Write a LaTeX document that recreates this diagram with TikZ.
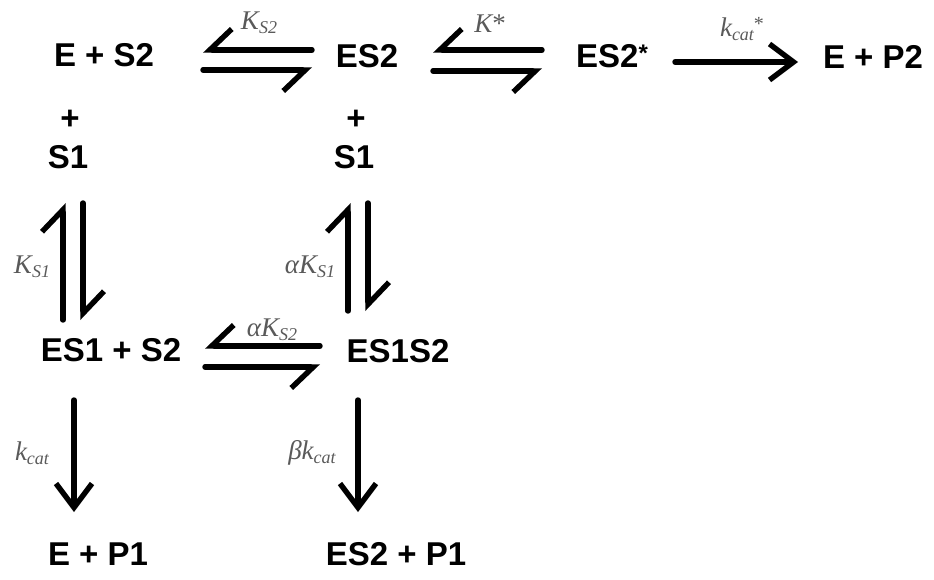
\documentclass[tikz,border=0pt]{standalone}
\usepackage{fontspec}
\setmainfont{Liberation Sans}
\newfontfamily\labserif{Liberation Serif}
\usetikzlibrary{arrows.meta}
\definecolor{labgray}{HTML}{5A5A5A}
\newcommand{\lsub}[1]{\raisebox{-0.32ex}{\fontsize{18}{18}\selectfont #1}}
\newcommand{\lsup}[1]{\raisebox{0.45ex}{\fontsize{20}{20}\selectfont #1}}
\begin{document}
\begin{tikzpicture}[x=1pt,y=-1pt,
  chem/.style={inner sep=0pt,font=\fontsize{33}{35}\selectfont\bfseries},
  lab/.style={inner sep=0pt,text=labgray,font=\fontsize{27}{29}\selectfont\labserif\itshape},
  conn/.style={line width=5.4pt,line cap=round},
  harpA/.style={conn,-{Straight Barb[left,length=22pt,width=42pt]}},
  harpB/.style={conn,-{Straight Barb[right,length=22pt,width=42pt]}},
  single/.style={conn,-{Straight Barb[length=24pt,width=36pt]}}]
\useasboundingbox (0,0) rectangle (934,579);
% species
\node[chem] (ES) at (104,55) {E + S2};
\node[chem] (ES2) at (367,56) {ES2};
\node[chem] (ES2s) at (612,56) {ES2\raisebox{6pt}{\fontsize{24}{24}\selectfont*}};
\node[chem] (EP2) at (873,57) {E + P2};
\node[chem] (plusL) at (70,120) {+};
\node[chem] (S1L) at (68,157) {S1};
\node[chem] (plusR) at (356,120) {+};
\node[chem] (S1R) at (354,157) {S1};
\node[chem] (ES1) at (111,350) {ES1 + S2};
\node[chem] (ES1S2) at (398,351) {ES1S2};
\node[chem] (EP1) at (98,554) {E + P1};
\node[chem] (ES2P1) at (396,554) {ES2 + P1};
% labels
\node[lab] (lKS2) at (259,23) {K\lsub{S2}};
\node[lab] (lKst) at (490,24) {K{\upshape*}};
\node[lab] (lkcs) at (742,29) {k\lsub{cat}\lsup{\upshape*}};
\node[lab] (lKS1) at (32,267) {K\lsub{S1}};
\node[lab] (laKS1) at (310,267) {αK\lsub{S1}};
\node[lab] (laKS2) at (272,330) {αK\lsub{S2}};
\node[lab] (lkcat) at (32,453) {k\lsub{cat}};
\node[lab] (lbkcat) at (312,453) {βk\lsub{cat}};
% connectors
\draw[harpB] ([shift={(-55,-6)}]ES2.center) -- ([shift={(99,-5)}]ES.center);
\draw[harpB] ([shift={(99,15)}]ES.center) -- ([shift={(-55,14)}]ES2.center);
\draw[harpB] ([shift={(-70,-6)}]ES2s.center) -- ([shift={(66,-6)}]ES2.center);
\draw[harpB] ([shift={(66,15)}]ES2.center) -- ([shift={(-70,15)}]ES2s.center);
\draw[single] ([shift={(63,6)}]ES2s.center) -- ([shift={(-75,5)}]EP2.center);
\draw[harpA] ([shift={(-48,-30)}]ES1.center) -- ([shift={(-5,46)}]S1L.center);
\draw[harpA] ([shift={(15,46)}]S1L.center) -- ([shift={(-28,-30)}]ES1.center);
\draw[harpA] ([shift={(-50,-40)}]ES1S2.center) -- ([shift={(-6,46)}]S1R.center);
\draw[harpA] ([shift={(14,46)}]S1R.center) -- ([shift={(-30,-40)}]ES1S2.center);
\draw[harpB] ([shift={(-78,-5)}]ES1S2.center) -- ([shift={(94,-4)}]ES1.center);
\draw[harpB] ([shift={(94,17)}]ES1.center) -- ([shift={(-78,16)}]ES1S2.center);
\draw[single] ([shift={(-37,50)}]ES1.center) -- ([shift={(-24,-42)}]EP1.center);
\draw[single] ([shift={(-40,49)}]ES1S2.center) -- ([shift={(-38,-42)}]ES2P1.center);
\end{tikzpicture}
\end{document}
